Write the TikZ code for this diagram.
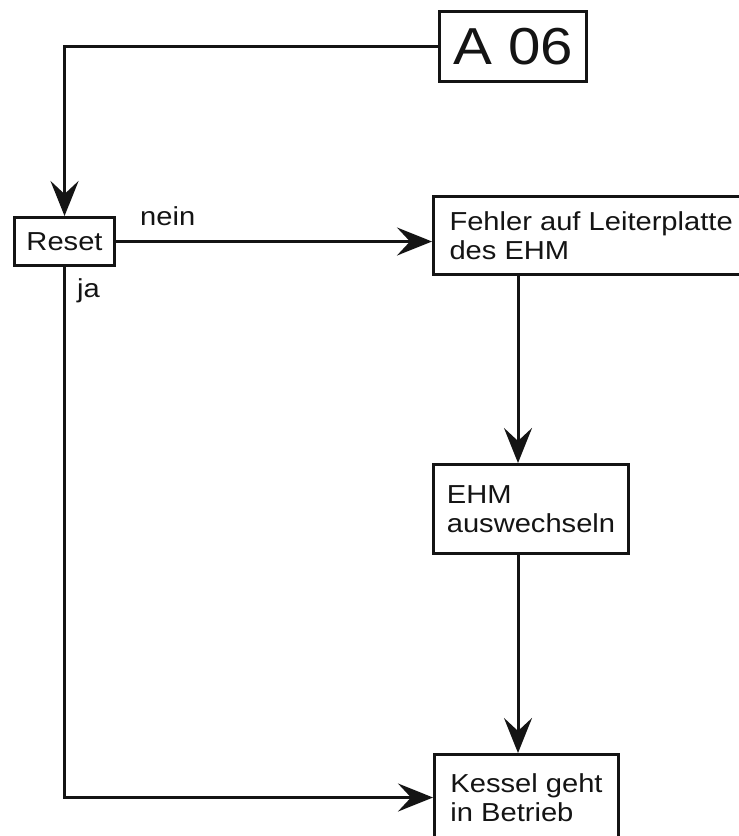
\documentclass[tikz,border=0pt]{standalone}
\usepackage{fontspec}
\setmainfont[FakeStretch=1.12]{Liberation Sans}
\usepackage{xcolor}
\usepackage{tikz}
\usetikzlibrary{arrows.meta,calc}
\definecolor{paper}{HTML}{FFFFFF}
\definecolor{ink}{HTML}{141414}
\tikzset{
  box/.style={draw=ink, line width=3pt, align=left, inner xsep=12pt, inner ysep=4pt,
    font=\fontsize{26}{29}\selectfont, text=ink, anchor=north west},
  bigbox/.style={box, align=center, font=\fontsize{52}{58}\selectfont},
  arr/.style={draw=ink, line width=3pt, -{Stealth[length=35pt, width=28pt, inset=13pt]}},
  lbl/.style={text=ink, font=\fontsize{26}{29}\selectfont, inner sep=0pt},
}

\begin{document}
\begin{tikzpicture}[x=1pt, y=-1pt]
  \useasboundingbox[fill=paper] (0,0) rectangle (739,836);

  \node[bigbox, minimum width=147pt, minimum height=70pt] (a06) at (438,10) {A 06};
  \node[box, align=center, minimum width=97pt, minimum height=48pt] (reset) at (13,216) {Reset};
  \node[box, inner xsep=16pt, minimum height=78pt] (fehler) at (432,195) {Fehler auf Leiterplatte\\des EHM};
  \node[box, minimum width=195pt, minimum height=89pt] (ehm) at (432,463) {EHM\\auswechseln};
  \node[box, minimum width=184pt, minimum height=86pt] (kessel) at (433,753) {Kessel geht\\in Betrieb};

  \coordinate (col) at (518,0);

  \draw[arr] (a06.west) -| (reset.north);
  \draw[arr] (reset.east) -- (reset.east -| fehler.west);
  \draw[arr] (reset.south) |- (kessel.west);
  \draw[arr] (col |- fehler.south) -- (col |- ehm.north);
  \draw[arr] (col |- ehm.south) -- (col |- kessel.north);

  \node[lbl, anchor=base west] (nein) at (140,225) {nein};
  \node[lbl, anchor=base west] (ja) at (77,297) {ja};
\end{tikzpicture}
\end{document}
